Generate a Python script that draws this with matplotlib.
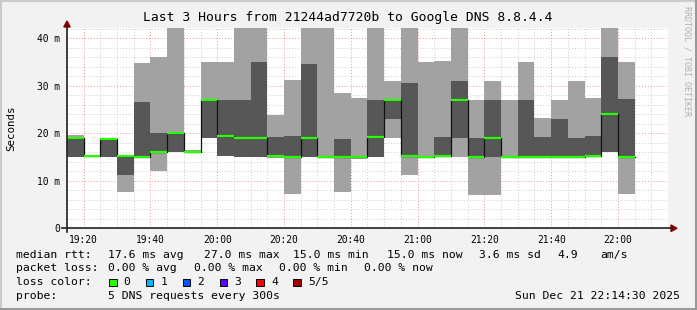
import numpy as np
import matplotlib.pyplot as plt
from matplotlib.lines import Line2D
from matplotlib.patches import Rectangle, Polygon

plt.rcParams['font.family'] = ['DejaVu Sans Mono']

W, H = 697, 310

# 5 min steps from 19:15 (minutes since midnight), 5 sorted pings per step (ms)
t_start = 19 * 60 + 15
ping_min = [15.1, 15.2, 15.1, 7.7, 15.0, 12.1, 16.1, 16.1, 19.1, 15.3, 15.1, 15.1,
            14.7, 7.2, 15.1, 15.0, 7.7, 14.5, 15.1, 19.1, 11.2, 15.0, 15.2, 15.0,
            7.0, 7.0, 15.0, 15.0, 15.0, 15.0, 15.0, 15.2, 16.1, 7.2]
ping_lo = [15.1, 15.2, 15.1, 11.2, 15.0, 16.0, 16.1, 16.1, 19.1, 15.3, 15.1, 15.1,
           15.2, 15.0, 15.1, 15.0, 15.0, 14.9, 15.1, 23.0, 15.3, 15.0, 15.3, 19.1,
           15.0, 15.0, 15.0, 15.0, 15.0, 15.0, 15.0, 15.3, 16.1, 15.0]
ping_med = [19.1, 15.3, 18.8, 15.3, 15.0, 16.1, 20.1, 16.1, 27.1, 19.5, 19.1, 19.1,
            15.3, 15.0, 19.1, 15.0, 15.0, 15.1, 19.2, 27.0, 15.3, 15.0, 15.3, 27.1,
            15.0, 19.1, 15.0, 15.0, 15.0, 15.0, 15.0, 15.3, 24.1, 15.0]
ping_hi = [19.2, 15.3, 19.0, 15.3, 26.6, 20.0, 20.2, 16.3, 27.2, 26.9, 26.9, 35.0,
           19.3, 19.4, 34.5, 15.1, 18.8, 15.3, 27.0, 27.1, 30.5, 15.1, 19.2, 31.0,
           18.9, 27.0, 15.1, 27.0, 19.2, 23.0, 19.1, 19.5, 36.1, 27.2]
ping_max = [19.6, 15.4, 19.0, 15.3, 34.8, 36.1, 45.0, 16.5, 35.1, 35.1, 45.0, 45.0,
            23.9, 31.2, 45.0, 45.0, 28.4, 27.4, 45.0, 31.1, 45.0, 35.1, 35.3, 45.0,
            27.0, 31.0, 27.0, 35.0, 23.2, 27.0, 31.0, 27.4, 45.0, 35.1]

y_ticks = [0, 10, 20, 30, 40]
y_labels = ['0', '10 m', '20 m', '30 m', '40 m']
x_ticks = [19 * 60 + 20 + 20 * i for i in range(9)]
x_labels = ['19:20', '19:40', '20:00', '20:20', '20:40', '21:00', '21:20', '21:40', '22:00']

loss_labels = ['0', '1', '2', '3', '4', '5/5']
loss_colors = ['#26ff00', '#00b8ff', '#0059ff', '#5e00ff', '#ff0000', '#a10000']

t = t_start + 5 * np.arange(len(ping_med))
pmin, plo, pmed, phi, pmax = map(np.array, (ping_min, ping_lo, ping_med, ping_hi, ping_max))

fig = plt.figure(figsize=(W / 100, H / 100), dpi=100, facecolor='#f2f2f2')


def fx(x):
    return x / W


def fy(y):
    return 1 - y / H


ax = fig.add_axes([fx(67), fy(228.3), (668 - 67) / W, (228.3 - 28) / H])
ax.set_facecolor('white')
ax.set_xlim(t_start, t_start + 180)
ax.set_ylim(0, 42.15)
for s in ax.spines.values():
    s.set_visible(False)

# grid
gstyle = (0, (1, 2))
for m in range(t_start, t_start + 181, 5):
    if (m % 20) != 0:
        ax.axvline(m, color='#8c8c8c', alpha=0.45, lw=0.7, ls=gstyle, zorder=0)
for v in np.arange(2, 43, 2):
    if v % 10 != 0:
        ax.axhline(v, color='#8c8c8c', alpha=0.45, lw=0.7, ls=gstyle, zorder=0)
for m in x_ticks:
    ax.axvline(m, color='#e05050', alpha=0.6, lw=0.7, ls=gstyle, zorder=0.5)
for v in y_ticks[1:]:
    ax.axhline(v, color='#e05050', alpha=0.6, lw=0.7, ls=gstyle, zorder=0.5)

# smoke
ax.bar(t, pmax - pmin, bottom=pmin, width=5, align='edge', color='#a2a2a2', lw=0, zorder=2)
ax.bar(t, phi - plo, bottom=plo, width=5, align='edge', color='#575757', lw=0, zorder=3)

# median
ax.step(np.append(t, t[-1] + 5), np.append(pmed, pmed[-1]), where='post',
        color='#101010', lw=0.9, zorder=4)
ax.hlines(pmed, t, t + 5, colors=loss_colors[0], lw=1.6, zorder=5)

ax.set_xticks(x_ticks)
ax.set_xticklabels(x_labels)
ax.set_yticks(y_ticks)
ax.set_yticklabels(y_labels)
ax.tick_params(axis='both', labelsize=6.9, length=0, colors='black')
ax.tick_params(axis='y', pad=5)
ax.tick_params(axis='x', pad=4.5)

# axes lines and arrows
axis_col = '#202020'
arrow_col = '#8b0000'
fig.add_artist(Line2D([fx(62), fx(672)], [fy(228.3)] * 2, color=axis_col, lw=1.2))
fig.add_artist(Line2D([fx(67)] * 2, [fy(232), fy(26)], color=axis_col, lw=1.2))
fig.add_artist(Polygon([(fx(671), fy(225)), (fx(671), fy(231.5)), (fx(677), fy(228.3))],
                       closed=True, color=arrow_col, transform=fig.transFigure))
fig.add_artist(Polygon([(fx(63.8), fy(27)), (fx(70.2), fy(27)), (fx(67), fy(21))],
                       closed=True, color=arrow_col, transform=fig.transFigure))

# frame shading
fig.add_artist(Line2D([0, 1], [fy(1), fy(1)], color='#cbcbcb', lw=1.5))
fig.add_artist(Line2D([fx(1), fx(1)], [0, 1], color='#cbcbcb', lw=1.5))
fig.add_artist(Line2D([0, 1], [fy(309), fy(309)], color='#999999', lw=1.5))
fig.add_artist(Line2D([fx(696), fx(696)], [0, 1], color='#999999', lw=1.5))

# title and labels
fig.text(fx(348), fy(18), 'Last 3 Hours from 21244ad7720b to Google DNS 8.8.4.4',
         ha='center', va='center', fontsize=9.4)
fig.text(fx(11), fy(128), 'Seconds', rotation=90, ha='center', va='center', fontsize=7.8)
fig.text(fx(687), fy(6), 'RRDTOOL / TOBI OETIKER', rotation=270, ha='center', va='top',
         fontsize=6, color='#b0b0b0')

fs = 8.2
rows = [
    (254.7, [(16.4, 'median rtt:'), (107.6, '17.6 ms avg'), (203.6, '27.0 ms max'),
             (293.3, '15.0 ms min'), (386.7, '15.0 ms now'), (479, '3.6 ms sd'),
             (557.8, '4.9'), (600, 'am/s')]),
    (268.3, [(16.4, 'packet loss:'), (107.6, '0.00 % avg'), (194.2, '0.00 % max'),
             (279, '0.00 % min'), (364.4, '0.00 % now')]),
    (296.3, [(16.4, 'probe:'), (107.6, '5 DNS requests every 300s')]),
]
for y, items in rows:
    for x, s in items:
        fig.text(fx(x), fy(y), s, ha='left', va='center', fontsize=fs)
fig.text(fx(680), fy(296.3), 'Sun Dec 21 22:14:30 2025', ha='right', va='center', fontsize=fs)

fig.text(fx(16.4), fy(282.3), 'loss color:', ha='left', va='center', fontsize=fs)
box_x = [109, 145.8, 182.7, 219.6, 256.4, 293.3]
for bx, lab, col in zip(box_x, loss_labels, loss_colors):
    fig.add_artist(Rectangle((fx(bx), fy(286)), 7.5 / W, 7.5 / H, facecolor=col,
                             edgecolor='black', lw=0.7, transform=fig.transFigure))
    fig.text(fx(bx + 14.6), fy(282.3), lab, ha='left', va='center', fontsize=fs)

fig.savefig('out.png', dpi=100, facecolor=fig.get_facecolor())
